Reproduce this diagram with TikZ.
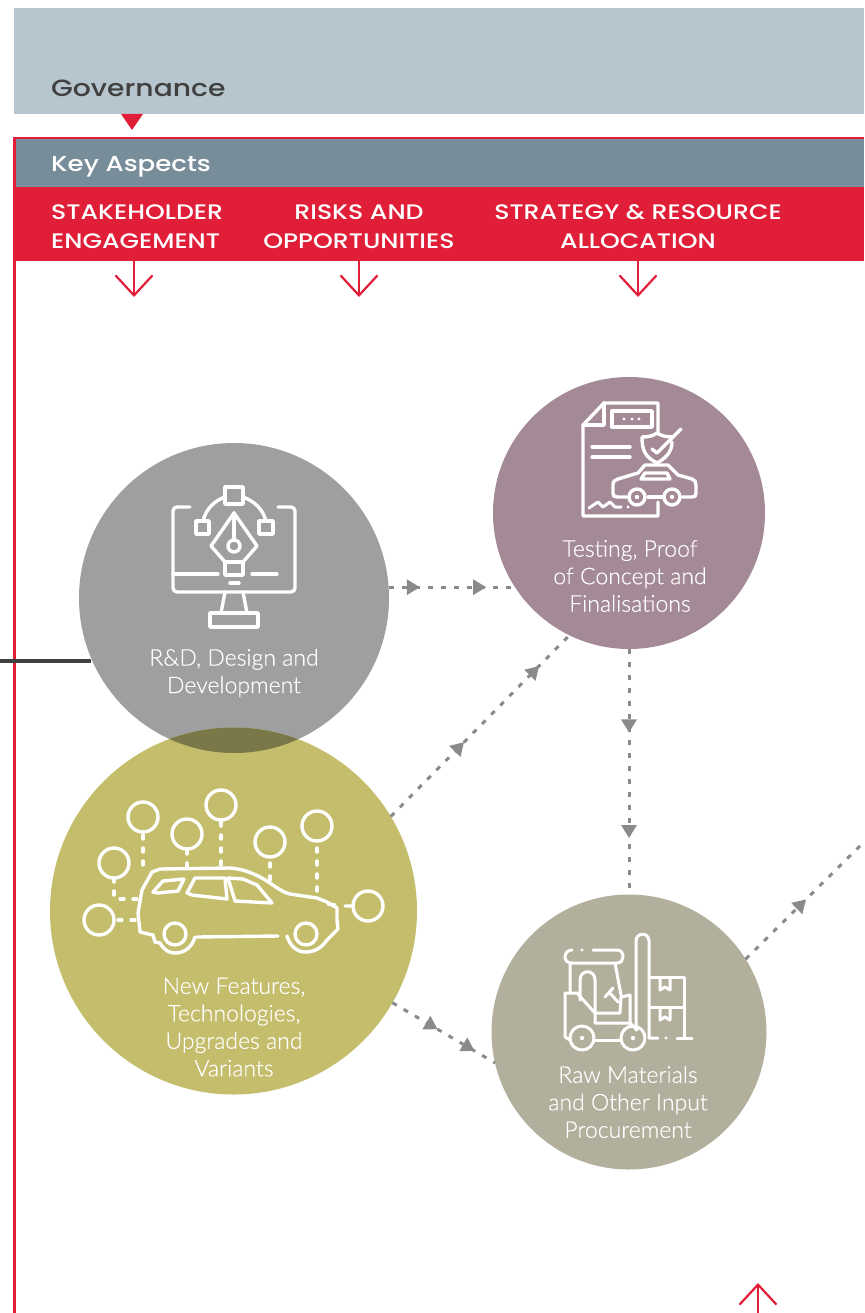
\documentclass[tikz,border=0pt]{standalone}
\usepackage{fontspec}
\setmainfont{Lato}
\newfontfamily\lightfont{Lato Light}[FakeBold=0.25]
\newfontfamily\headfont{Poppins Medium}[FakeStretch=1.2]
\usetikzlibrary{arrows.meta,decorations.markings}
\definecolor{myRed}{RGB}{224, 30, 55}
\definecolor{mySky}{RGB}{183, 197, 207}
\definecolor{mySlate}{RGB}{120, 141, 154}
\definecolor{myInk}{RGB}{64, 64, 64}
\definecolor{myGrey}{RGB}{157, 159, 160}
\definecolor{myMauve}{RGB}{164, 138, 150}
\definecolor{myOlive}{RGB}{196, 189, 108}
\definecolor{myDark}{RGB}{122, 119, 72}
\definecolor{myStone}{RGB}{178, 175, 156}
\definecolor{myFlow}{RGB}{138, 138, 138}
\tikzset{%%
  flowtip/.tip={Triangle[length=13pt,width=15pt]},
  disc/.style={circle, inner sep=0pt, outer sep=0pt},
  head/.style={white, font=\headfont\fontsize{21}{29}\selectfont, align=center},
  caption/.style={white, font=\lightfont\fontsize{23}{27.5}\selectfont, align=center},
  flow/.style={myFlow, line width=3pt, dash pattern=on 5pt off 8pt},
  onehead/.style={flow, postaction=decorate, decoration={markings,
      mark=at position #1 with {\arrow[solid]{flowtip}}}},
  twoheads/.style 2 args={flow, postaction=decorate, decoration={markings,
      mark=at position #1 with {\arrow[solid]{flowtip}},
      mark=at position #2 with {\arrow[solid]{flowtip}}}},
  redarrow/.style={myRed, line width=2.2pt, -{Straight Barb[length=20pt,width=37pt]}},
  icon/.style={white, line width=3.4pt, line cap=round, line join=round},
  thinicon/.style={icon, line width=3pt},
  iconleads/.style={icon, dash pattern=on 4pt off 9pt}
  }

\begin{document}
\begin{tikzpicture}[x=1pt,y=-1pt]
  \useasboundingbox (0,0) rectangle (864,1313);
  % header
  \fill[mySky] (14,8) rectangle (864,114);
  \node[anchor=west, myInk, font=\headfont\fontsize{23.5}{28}\selectfont, inner sep=0pt] (governance) at (51,88) {Governance};
  \fill[myRed] (121,114)--(143,114)--(132,130)--cycle;
  \draw[myRed, line width=2.4pt] (864,138)--(14.5,138)--(14.5,1313);
  \fill[mySlate] (15.5,139) rectangle (864,187);
  \fill[myRed] (15.5,187) rectangle (864,261);
  \node[anchor=west, white, font=\headfont\fontsize{21.7}{24}\selectfont, inner sep=0pt] (keyaspects) at (51,167) {Key Aspects};
  \node[head, anchor=west, align=left, inner sep=0pt] (stakeholder) at (51,227) {STAKEHOLDER\\ENGAGEMENT};
  \node[head, inner sep=0pt] (risks) at (359,227) {RISKS AND\\OPPORTUNITIES};
  \node[head, inner sep=0pt] (strategy) at (638,227) {STRATEGY \& RESOURCE\\ALLOCATION};
  \coordinate (stakeholdertop) at (134,261);
  \coordinate (stakeholderend) at (134,297);
  \coordinate (riskstop) at (359,261);
  \coordinate (risksend) at (359,297);
  \coordinate (strategytop) at (638,261);
  \coordinate (strategyend) at (638,297);
  \coordinate (returnfoot) at (758,1313);
  \coordinate (returnend) at (758,1283);
  \draw[redarrow] (stakeholdertop)--(stakeholderend);
  \draw[redarrow] (riskstop)--(risksend);
  \draw[redarrow] (strategytop)--(strategyend);
  \draw[redarrow] (returnfoot)--(returnend);

  % circles
  \coordinate (incoming) at (0,661);
  \node[disc, fill=myGrey, minimum size=310pt] (design) at (234,598) {};
  \draw[myInk, line width=3.2pt] (incoming)--(incoming -| design.203.9);
  \node[disc, fill=myMauve, minimum size=272pt] (testing) at (629,513) {};
  \node[disc, fill=myOlive, minimum size=367pt] (features) at (233.5,911) {};
  \node[disc, fill=myStone, minimum size=275pt] (material) at (629,1032) {};
  \begin{scope}
    \clip (design.center) circle [radius=155];
    \fill[myDark] (features.center) circle [radius=183.5];
  \end{scope}

  % flows
  \coordinate (leaving) at (864,842);
  \draw[twoheads={0.25}{0.78}] (design.4.4)--(design.4.4 -| testing.212.6);
  \draw[twoheads={0.41}{0.83}] (features.31.6)--(testing.244.2);
  \draw[twoheads={0.34}{0.77}] (testing.south)--(material.north);
  \draw[twoheads={0.44}{0.80}] (features.-30)--(material.193);
  \draw[onehead={0.51}] (material.32.5)--(leaving);

  \node[caption] (designtext) at (234,673) {R\&D, Design and\\Development};
  \node[caption] (testingtext) at (630,576) {Testing, Proof\\of Concept and\\Finalisations};
  \node[caption] (featurestext) at (234,1027) {New Features,\\Technologies,\\Upgrades and\\Variants};
  \node[caption] (materialtext) at (628,1102) {Raw Materials\\and Other Input\\Procurement};

  % design icon
  \draw[icon, rounded corners=4pt] (190,507)--(173,507)--(173,592)--(295,592)--(295,507)--(278,507);
  \draw[icon] (173,574)--(218,574) (252,574)--(277,574) (230,583)--(239,583);
  \draw[icon] (225,592)--(221,613) (243,592)--(247,613);
  \draw[icon] (210,613) rectangle (258,627);
  \draw[icon] (225,487) rectangle (243,504);
  \draw[icon] (196,521) rectangle (209,534);
  \draw[icon] (259,521) rectangle (273,534);
  \draw[icon] (203,521) .. controls (206,509) and (214,501) .. (225,497);
  \draw[icon] (266,521) .. controls (263,509) and (254,501) .. (243,497);
  \draw[icon] (234,513)--(211,546)--(225,562)--(243,562)--(257,546)--cycle;
  \draw[icon] (234,513)--(234,539);
  \draw[icon] (234,546) circle [radius=6];
  \draw[icon] (225,562) rectangle (243,575);

  % testing icon
  \draw[icon] (658,433)--(658,403)--(604,403)--(583,425)--(583,516)--(658,516)--(658,502);
  \draw[icon] (604,403)--(604,425)--(583,425);
  \draw[icon] (612,411) rectangle (652,427);
  \fill[white] (624,419) circle [radius=1.6] (632,419) circle [radius=1.6] (639,419) circle [radius=1.6];
  \draw[icon] (592,447)--(630,447) (592,457)--(630,457);
  \draw[icon] (673,437) .. controls (667,437) and (661,436) .. (657,433) .. controls (653,436) and (648,437) .. (642,437)
    .. controls (642,450) and (645,457) .. (657,463) .. controls (668,457) and (672,450) .. (672,442);
  \draw[icon] (652,449)--(657,453)--(681,429);
  \draw[icon] (627,497)--(617,497) .. controls (614,497) and (613,496) .. (613,493)--(613,485) .. controls (613,481) and (615,480) .. (618,479)
    --(638,473)--(645,465)--(668,465)--(678,475)--(692,479) .. controls (695,480) and (696,482) .. (696,485)--(696,493) .. controls (696,496) and (695,497) .. (692,497)--(682,497);
  \draw[icon] (648,497)--(663,497);
  \draw[icon] (637,497) circle [radius=8] (672,497) circle [radius=8];
  \fill[white] (637,497) circle [radius=2.2] (672,497) circle [radius=2.2];
  \draw[icon] (641,479)--(670,479)--(667,473)--(645,473)--cycle;
  \draw[thinicon] (589,508)--(598,502)--(603,507)--(610,502)--(615,507)--(621,507);
  \fill[white] (628,507) circle [radius=1.6];

  % features icon
  \foreach \cx/\cy in {143/817, 187/834, 221/805, 270/842, 317/826, 114/863, 99/920, 368/906}
    \draw[icon] (\cx,\cy) circle [radius=15];
  \draw[iconleads] (143,835)--(143,870);
  \draw[iconleads] (187,850)--(187,868);
  \draw[iconleads] (221,822)--(221,868);
  \draw[iconleads] (270,863)--(270,883);
  \draw[iconleads] (317,848)--(317,898);
  \draw[iconleads] (114,878)--(114,895);
  \draw[iconleads] (120,899)--(138,899);
  \draw[iconleads] (118,920)--(138,920);
  \draw[icon] (345,906)--(352,906) (328,904)--(335,905);
  \draw[icon] (197,937)--(278,936);
  \draw[icon] (287,936) .. controls (290,946) and (297,952) .. (305,952) .. controls (316,952) and (322,947) .. (327,940)
    --(338,929)--(337,920)--(337,908)--(327,902)--(317,898)--(290,894) .. controls (282,892) and (276,887) .. (270,883)
    .. controls (258,875) and (245,869) .. (230,868)--(160,869)--(152,872)--(142,890)--(138,913)--(140,932)--(153,935)--(155,942)--(160,943)
    .. controls (164,950) and (169,953) .. (175,953) .. controls (185,953) and (192,947) .. (195,937);
  \draw[icon] (175,934) circle [radius=11] (306,934) circle [radius=11];
  \draw[icon] (153,892)--(163,881)--(184,879)--(178,891)--(158,893)--cycle;
  \draw[icon] (195,878)--(225,878)--(227,899)--(192,895)--(187,893)--cycle;
  \draw[icon] (228,878)--(243,879)--(257,885)--(272,903)--(235,901)--cycle;

  % material icon
  \draw[thinicon] (572,950) .. controls (568,950) and (565,953) .. (565,957) .. controls (565,961) and (568,963) .. (572,963)--(617,963)
    .. controls (621,963) and (623,960) .. (623,957) .. controls (623,953) and (621,950) .. (617,950)--(593,950);
  \fill[white] (582,950) circle [radius=1.6];
  \draw[thinicon] (570,963)--(570,993) (615,963)--(621,995);
  \draw[thinicon] (580,1000)--(580,980) .. controls (580,969) and (595,969) .. (595,980)--(595,1023)--(630,1023)--(637,1030);
  \draw[thinicon] (565,993)--(565,1037)--(570,1040);
  \draw[thinicon] (565,993)--(577,993)--(595,1013)--(620,1013)--(621,997)--(630,995)--(630,1023);
  \draw[thinicon] (605,997)--(613,988) (609,992)--(618,1002);
  \draw[thinicon] (582,1038) circle [radius=12] (633,1038) circle [radius=12];
  \fill[white] (582,1038) circle [radius=2.2] (633,1038) circle [radius=2.2];
  \draw[thinicon] (594,1040)--(621,1040);
  \draw[thinicon] (636,1030)--(636,941) .. controls (636,932) and (649,932) .. (649,941)--(649,1038)--(658,1038);
  \fill[white] (666,1038) circle [radius=1.6];
  \draw[thinicon] (677,1038)--(692,1038);
  \draw[thinicon] (649,977)--(684,977)--(684,1038) (649,1007)--(684,1007);
  \draw[thinicon] (660,977)--(660,990)--(665,987)--(670,990)--(670,977);
  \draw[thinicon] (660,1007)--(660,1020)--(665,1017)--(670,1020)--(670,1007);
\end{tikzpicture}
\end{document}
